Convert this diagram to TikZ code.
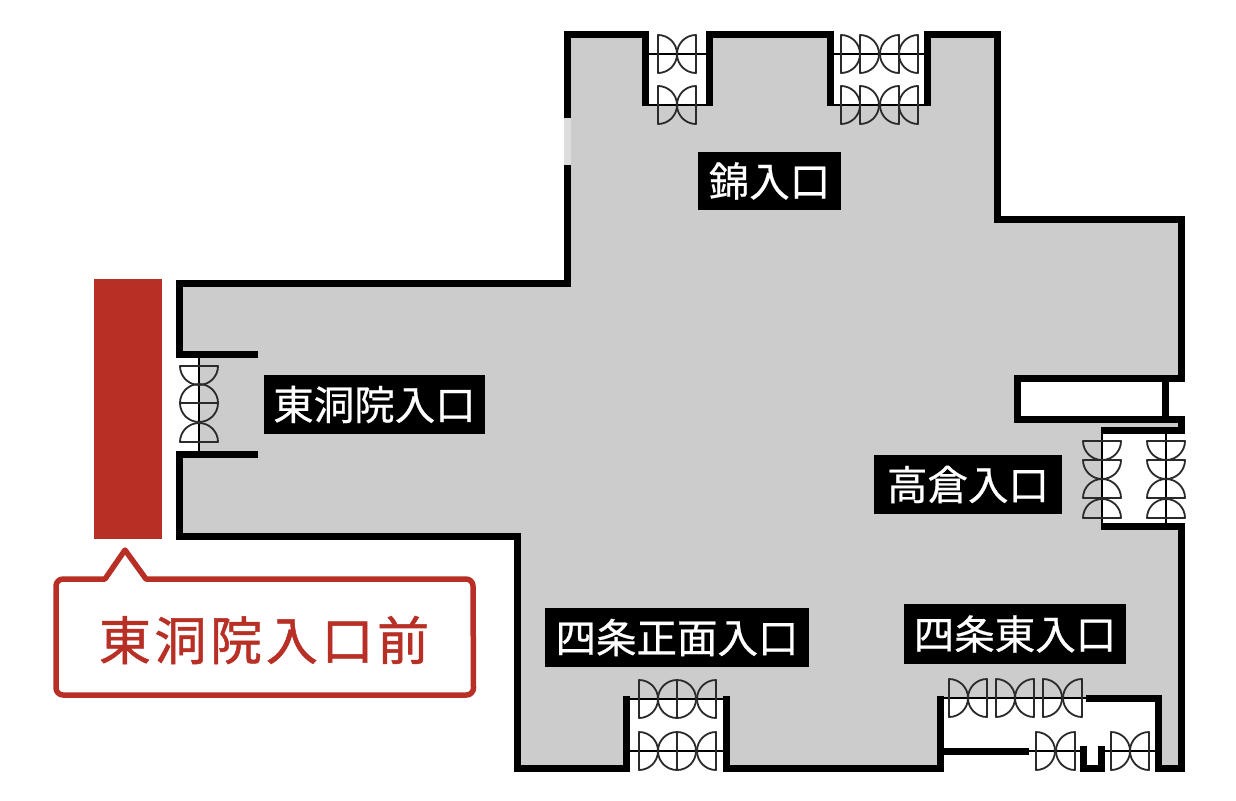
\documentclass[tikz,border=0pt]{standalone}
\usepackage{fontspec}
\newfontfamily\cjk[FakeBold=0.6]{Noto Sans CJK JP}
\newfontfamily\cjkwide[LetterSpace=7,FakeBold=1.0]{Noto Sans CJK JP}
\definecolor{planred}{HTML}{B83025}
\definecolor{floorgray}{HTML}{CCCCCC}
\definecolor{gapgray}{HTML}{DDDDDD}
\definecolor{doorink}{HTML}{2A2A2A}
\tikzset{
  wall/.style={line width=7pt,draw=black,line join=miter,line cap=butt},
  doorline/.style={line width=1.8pt,draw=black},
  leaf/.pic={\draw[line width=1.8pt,draw=doorink,line join=round] (0,-19) .. controls (10.5,-19) and (19,-10.5) .. (19,0) .. controls (19,10.5) and (10.5,19) .. (0,19) -- cycle;},
  R/.style={rotate=0},L/.style={rotate=180},D/.style={rotate=-90},U/.style={rotate=90},
  tag/.style={fill=black,text=white,font=\cjk\fontsize{40.5}{40}\selectfont,inner sep=0pt,anchor=center,minimum height=59pt},
}
\newcommand{\leafs}[4]{\foreach \px in {#1} \pic[#3] at (\px,#2) {leaf};}
\begin{document}
\begin{tikzpicture}[x=1pt,y=-1pt]
\useasboundingbox (0,0) rectangle (1236,800);
% floor
\fill[floorgray] (179,454) -- (179,536) -- (517,536) -- (517,768) -- (626,768) -- (626,698) -- (726,698) -- (726,768) -- (940,768) -- (940,698) -- (1158,698) -- (1158,768) -- (1181,768) -- (1181,526) -- (1101,526) -- (1101,430) -- (1181,430) -- (1181,419) -- (1017,419) -- (1017,378) -- (1181,378) -- (1181,219) -- (997,219) -- (997,35) -- (927,35) -- (927,105) -- (830,105) -- (830,35) -- (709,35) -- (709,105) -- (645,105) -- (645,35) -- (567,35) -- (567,283) -- (179,283) -- (179,354) -- (199,354) -- (199,454) -- cycle;
\draw[line width=7pt,gapgray] (567,118) -- (567,165);
% walls
\draw[wall] (258,354) -- (179,354) -- (179,283) -- (567,283) -- (567,165);
\draw[wall] (567,118) -- (567,35) -- (645,35) -- (645,106);
\draw[wall] (709,106) -- (709,35) -- (830,35) -- (830,106);
\draw[wall] (927,106) -- (927,35) -- (997,35) -- (997,219) -- (1181,219) -- (1181,378) -- (1017,378) -- (1017,419) -- (1181,419) -- (1181,430) -- (1101,430);
\draw[wall] (1165,378) -- (1165,419);
\draw[wall] (1101,526) -- (1181,526) -- (1181,768) -- (1158,768) -- (1158,698) -- (1086,698);
\draw[wall] (1029,751) -- (940,751);
\draw[wall] (940,696) -- (940,768) -- (726,768) -- (726,696);
\draw[wall] (626,696) -- (626,768) -- (517,768) -- (517,536) -- (179,536) -- (179,454) -- (258,454);
\draw[wall] (1083,746) -- (1083,768) -- (1101,768) -- (1101,746);
% door lines
\draw[doorline] (648,54) -- (706,54);
\draw[doorline] (648,105) -- (706,105);
\draw[doorline] (833,54) -- (924,54);
\draw[doorline] (833,105) -- (924,105);
\draw[doorline] (199,357) -- (199,451);
\draw[doorline] (1102,433) -- (1102,523);
\draw[doorline] (1166,433) -- (1166,523);
\draw[doorline] (629,699) -- (723,699);
\draw[doorline] (629,751) -- (723,751);
\draw[doorline] (943,698) -- (1086,698);
\draw[doorline] (1029,751) -- (1080,751);
\draw[doorline] (1104,751) -- (1155,751);
% door leaves
\foreach \py in {54,105} {
  \leafs{658}{\py}{R}{}\leafs{696}{\py}{L}{}
  \leafs{841,860}{\py}{R}{}\leafs{899,918}{\py}{L}{}
}
\foreach \py in {699,751} {
  \leafs{639,677}{\py}{R}{}\leafs{677,716}{\py}{L}{}
}
\leafs{949,996,1043}{698}{R}{}\leafs{987,1034,1082}{698}{L}{}
\leafs{1036,1111}{751}{R}{}\leafs{1075,1149}{751}{L}{}
\foreach \px in {1102,1166} {
  \foreach \py in {441,460} {\pic[D] at (\px,\py) {leaf};}
  \foreach \py in {498,518} {\pic[U] at (\px,\py) {leaf};}
}
\foreach \py in {366,403} {\pic[D] at (199,\py) {leaf};}
\foreach \py in {403,442} {\pic[U] at (199,\py) {leaf};}
% labels
\node[tag,minimum width=143pt,minimum height=58pt] (nishiki) at (769.5,181) {錦入口};
\node[tag,minimum width=221pt] (toin) at (374.5,404.5) {東洞院入口};
\node[tag,minimum width=188pt] (takakura) at (968,484.5) {高倉入口};
\node[tag,minimum width=264pt] (shomen) at (677,637.5) {四条正面入口};
\node[tag,minimum width=222pt,minimum height=60pt] (shijoeast) at (1015,634) {四条東入口};
% red block and callout
\fill[planred] (94,279) rectangle (162,539);
\draw[planred,line width=5.5pt,fill=white,line join=round] (105,579) -- (125,550) -- (146,579) -- (466,579) arc[start angle=90,end angle=0,radius=7pt] -- (473.5,688) arc[start angle=0,end angle=-90,radius=7pt] -- (63,695) arc[start angle=-90,end angle=-180,radius=7pt] -- (56,586) arc[start angle=180,end angle=90,radius=7pt] -- cycle;
\node[text=planred,inner sep=0pt,font=\cjkwide\fontsize{52}{52}\selectfont] (callout) at (264,640) {東洞院入口前};
\end{tikzpicture}
\end{document}
